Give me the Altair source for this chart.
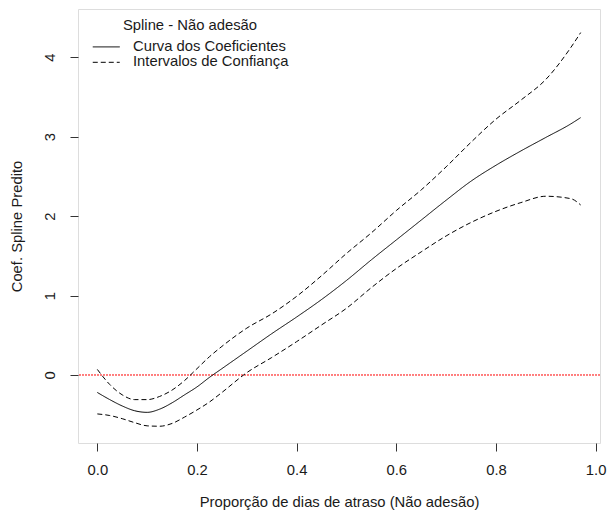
import altair as alt
import pandas as pd

# Data
x_vals = [0.0, 0.025, 0.05, 0.075, 0.1, 0.125, 0.15, 0.175, 0.2, 0.225, 0.25, 0.3, 0.35,
          0.4, 0.45, 0.5, 0.55, 0.6, 0.65, 0.7, 0.75, 0.8, 0.85, 0.9, 0.95, 0.97]
coef = [-0.22, -0.31, -0.39, -0.45, -0.47, -0.43, -0.35, -0.25, -0.15, -0.03, 0.08, 0.30, 0.52,
        0.73, 0.95, 1.19, 1.45, 1.70, 1.95, 2.20, 2.44, 2.64, 2.82, 2.99, 3.16, 3.24]
upper = [0.07, -0.12, -0.25, -0.31, -0.31, -0.27, -0.19, -0.07, 0.08, 0.23, 0.36, 0.59, 0.77,
         0.99, 1.25, 1.53, 1.79, 2.07, 2.33, 2.62, 2.93, 3.22, 3.46, 3.72, 4.12, 4.31]
lower = [-0.49, -0.51, -0.55, -0.60, -0.64, -0.645, -0.61, -0.53, -0.44, -0.34, -0.22, 0.03, 0.22,
         0.42, 0.63, 0.84, 1.10, 1.34, 1.55, 1.75, 1.92, 2.06, 2.17, 2.25, 2.22, 2.14]

series_names = ["Curva dos Coeficientes", "Intervalos de Confiança"]
x_ticks = [0.0, 0.2, 0.4, 0.6, 0.8, 1.0]
y_ticks = [0, 1, 2, 3, 4]

rows = []
for name, grp, vals in [(series_names[0], "coef", coef),
                        (series_names[1], "upper", upper),
                        (series_names[1], "lower", lower)]:
    for xv, yv in zip(x_vals, vals):
        rows.append({"x": xv, "y": yv, "serie": name, "grupo": grp})
df = pd.DataFrame(rows)

FONT = "Liberation Sans"
FS = 14.8
TXT = "#1a1a1a"

xscale = alt.Scale(domain=[-0.0388, 1.0088], nice=False, zero=False)
yscale = alt.Scale(domain=[-0.856, 4.607], nice=False, zero=False)

lines = alt.Chart(df).mark_line(strokeWidth=1, color="black", interpolate="monotone").encode(
    x=alt.X("x:Q", scale=xscale,
            axis=alt.Axis(values=x_ticks, format=".1f", title="Proporção de dias de atraso (Não adesão)",
                          domain=False, grid=False, tickSize=8, tickColor="#333",
                          labelPadding=11, labelFont=FONT, labelFontSize=FS, labelColor=TXT,
                          titleFont=FONT, titleFontSize=FS, titleFontWeight="normal", titleColor=TXT,
                          titleY=59, titleBaseline="middle")),
    y=alt.Y("y:Q", scale=yscale,
            axis=alt.Axis(values=y_ticks, format="d", title="Coef. Spline Predito",
                          domain=False, grid=False, tickSize=8, tickColor="#333",
                          labelAngle=270, labelAlign="center", labelBaseline="bottom", labelPadding=13,
                          labelFont=FONT, labelFontSize=FS, labelColor=TXT,
                          titleFont=FONT, titleFontSize=FS, titleFontWeight="normal", titleColor=TXT,
                          titleAngle=270, titleX=-61, titleBaseline="middle")),
    strokeDash=alt.StrokeDash("serie:N",
                              scale=alt.Scale(domain=series_names, range=[[1, 0], [5, 3]]),
                              legend=alt.Legend(title="Spline - Não adesão", orient="none",
                                                legendX=14, legendY=9.4, padding=0,
                                                titleAnchor="middle", titleFont=FONT, titleFontSize=FS,
                                                titleFontWeight="normal", titleColor=TXT, titlePadding=6.2,
                                                labelFont=FONT, labelFontSize=FS, labelColor=TXT,
                                                labelOffset=26, symbolType="M-1,0H3", symbolSize=182,
                                                symbolStrokeColor="black", symbolStrokeWidth=1,
                                                rowPadding=-0.6)),
    detail="grupo:N",
)

zero_line = alt.Chart(pd.DataFrame({"h": [0]})).mark_rule(
    color="#ff0000", strokeWidth=1, strokeDash=[2, 1]
).encode(y=alt.Y("h:Q", scale=yscale))

chart = alt.layer(zero_line, lines).properties(
    width=522, height=434,
    autosize=alt.AutoSizeParams(type="none"),
    padding={"left": 78, "top": 9, "right": 8, "bottom": 71},
).configure_view(stroke="#333", strokeWidth=1).configure(background="white")

chart.save("out.html", embed_options={"renderer": "svg", "actions": False})
